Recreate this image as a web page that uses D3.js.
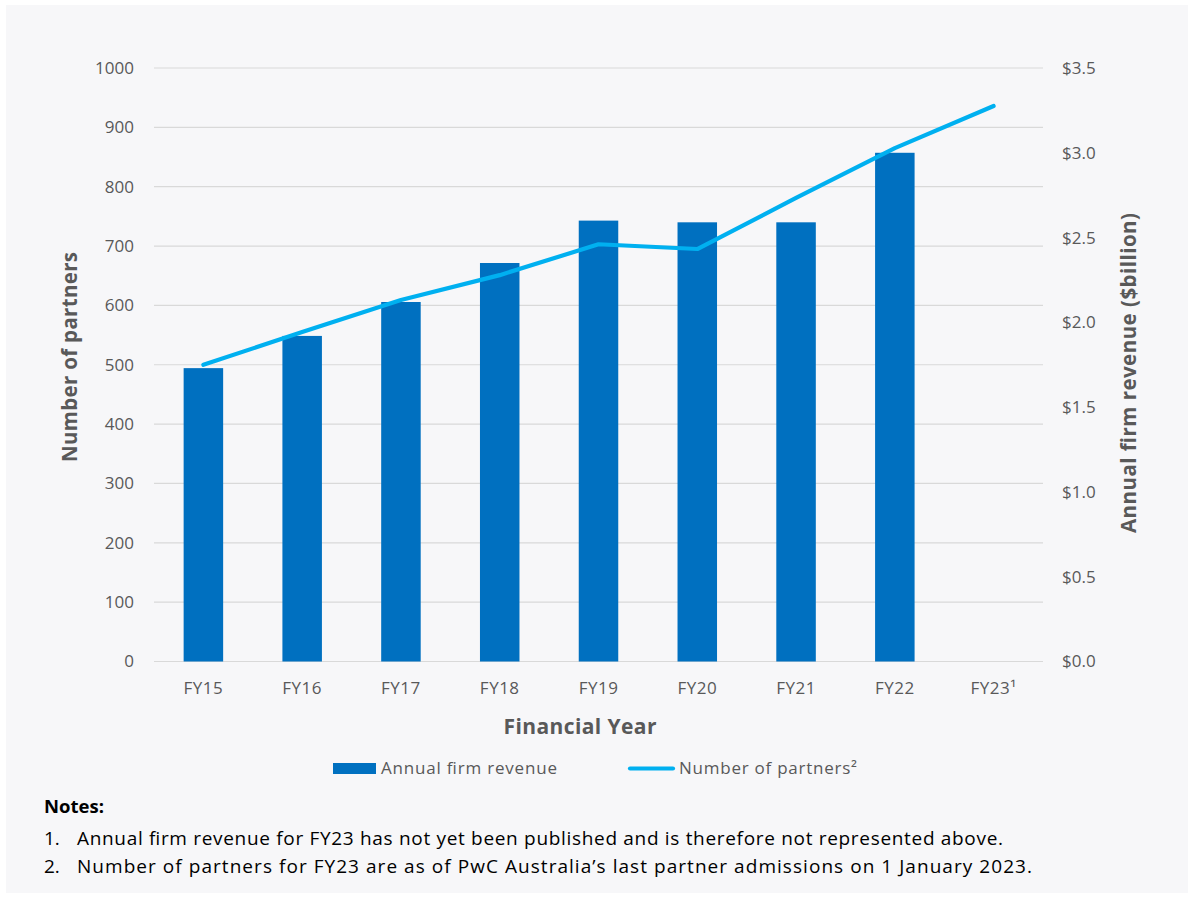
<!DOCTYPE html>
<html>
<head>
<meta charset="utf-8">
<script src="https://cdn.jsdelivr.net/npm/d3@7"></script>
<style>
  html, body { margin: 0; padding: 0; background: #ffffff; }
  svg { display: block; }
</style>
</head>
<body>
<svg id="chart" width="1194" height="897"></svg>
<script>
// ---------- DATA ----------
const categories = ["FY15", "FY16", "FY17", "FY18", "FY19", "FY20", "FY21", "FY22", "FY23¹"];
const revenue = [1.73, 1.92, 2.12, 2.35, 2.60, 2.59, 2.59, 3.00, null];   // $billion
const partners = [500, 555, 609, 651, 703, 695, 781, 865, 936];
const leftTicks = [0, 100, 200, 300, 400, 500, 600, 700, 800, 900, 1000];
const rightTicks = [0, 0.5, 1.0, 1.5, 2.0, 2.5, 3.0, 3.5];
const legendLabels = ["Annual firm revenue", "Number of partners²"];
const notes = [
  "Annual firm revenue for FY23 has not yet been published and is therefore not represented above.",
  "Number of partners for FY23 are as of PwC Australia’s last partner admissions on 1 January 2023."
];

// ---------- LAYOUT ----------
const FONT = "'Open Sans', 'Noto Sans', sans-serif";
const GREY = "#595959";
const BAR = "#0070C0";
const LINE = "#00B0F0";
const plot = { left: 154, right: 1043, top: 68, bottom: 661.5 };

const svg = d3.select("#chart");
svg.append("rect").attr("x", 6).attr("y", 5).attr("width", 1182).attr("height", 888)
  .attr("fill", "#F7F7F9");

const xc = d3.scaleBand().domain(categories).range([plot.left, plot.right]);
const yL = d3.scaleLinear().domain([0, 1000]).range([plot.bottom, plot.top]);
const yR = d3.scaleLinear().domain([0, 3.5]).range([plot.bottom, plot.top]);

// gridlines
svg.append("g").selectAll("line").data(leftTicks).join("line")
  .attr("x1", plot.left).attr("x2", plot.right)
  .attr("y1", d => yL(d)).attr("y2", d => yL(d))
  .attr("stroke", "#D9D9D9").attr("stroke-width", 1.2);

// left axis
const axL = d3.axisLeft(yL).tickValues(leftTicks).tickSize(0).tickPadding(0).tickFormat(d3.format("d"));
const gL = svg.append("g").attr("transform", `translate(${plot.left - 20},0)`).call(axL);
gL.select(".domain").remove();
gL.selectAll("text").attr("font-family", FONT).attr("font-size", 17).attr("fill", GREY);

// right axis
const axR = d3.axisRight(yR).tickValues(rightTicks).tickSize(0).tickPadding(0).tickFormat(d => "$" + d3.format(".1f")(d));
const gR = svg.append("g").attr("transform", `translate(${plot.right + 19},0)`).call(axR);
gR.select(".domain").remove();
gR.selectAll("text").attr("font-family", FONT).attr("font-size", 17).attr("fill", GREY);

// bottom axis
const axB = d3.axisBottom(xc).tickSize(0).tickPadding(0);
const gB = svg.append("g").attr("transform", `translate(0,${plot.bottom + 20})`).call(axB);
gB.select(".domain").remove();
gB.selectAll("text").attr("font-family", FONT).attr("font-size", 17).attr("fill", GREY)
  .attr("letter-spacing", 0.5);

// bars
const barW = xc.bandwidth() * 0.4;
svg.append("g").selectAll("rect")
  .data(categories.map((c, i) => ({ c, v: revenue[i] })).filter(d => d.v != null))
  .join("rect")
  .attr("x", d => xc(d.c) + xc.bandwidth() / 2 - barW / 2)
  .attr("width", barW)
  .attr("y", d => yR(d.v))
  .attr("height", d => yR(0) - yR(d.v))
  .attr("fill", BAR);

// line
const line = d3.line().x((d, i) => xc(categories[i]) + xc.bandwidth() / 2).y(d => yL(d));
svg.append("path").datum(partners).attr("d", line)
  .attr("fill", "none").attr("stroke", LINE).attr("stroke-width", 4.2)
  .attr("stroke-linecap", "round").attr("stroke-linejoin", "round");

function fit(sel, len) {
  sel.attr("textLength", len).attr("lengthAdjust", "spacing");
  return sel;
}

// axis titles
fit(svg.append("text").attr("transform", "translate(77,357) rotate(-90)")
  .attr("text-anchor", "middle").attr("font-family", FONT).attr("font-weight", 700)
  .attr("font-size", 20.5).attr("fill", GREY).text("Number of partners"), 210);
fit(svg.append("text").attr("transform", "translate(1136,373) rotate(-90)")
  .attr("text-anchor", "middle").attr("font-family", FONT).attr("font-weight", 700)
  .attr("font-size", 20.5).attr("fill", GREY).text("Annual firm revenue ($billion)"), 320);
fit(svg.append("text").attr("x", 580).attr("y", 734)
  .attr("text-anchor", "middle").attr("font-family", FONT).attr("font-weight", 700)
  .attr("font-size", 21).attr("fill", GREY).text("Financial Year"), 153);

// legend
const lg = svg.append("g");
lg.append("rect").attr("x", 333).attr("y", 763).attr("width", 43).attr("height", 11).attr("fill", BAR);
fit(lg.append("text").attr("x", 381).attr("y", 774).attr("font-family", FONT).attr("font-size", 17)
  .attr("fill", GREY).text(legendLabels[0]), 176);
lg.append("line").attr("x1", 630).attr("x2", 673).attr("y1", 768.5).attr("y2", 768.5)
  .attr("stroke", LINE).attr("stroke-width", 4.2).attr("stroke-linecap", "round");
fit(lg.append("text").attr("x", 679).attr("y", 774).attr("font-family", FONT).attr("font-size", 17)
  .attr("fill", GREY).text(legendLabels[1]), 178);

// notes
svg.append("text").attr("x", 44).attr("y", 813).attr("font-family", FONT).attr("font-weight", 700)
  .attr("font-size", 18.5).attr("fill", "#000").text("Notes:");
const noteLens = [926, 955];
notes.forEach((n, i) => {
  svg.append("text").attr("x", 44).attr("y", 845 + i * 28).attr("font-family", FONT)
    .attr("font-size", 19).attr("fill", "#000").text((i + 1) + ".");
  fit(svg.append("text").attr("x", 77).attr("y", 845 + i * 28).attr("font-family", FONT)
    .attr("font-size", 19).attr("fill", "#000").text(n), noteLens[i]);
});
</script>
</body>
</html>
